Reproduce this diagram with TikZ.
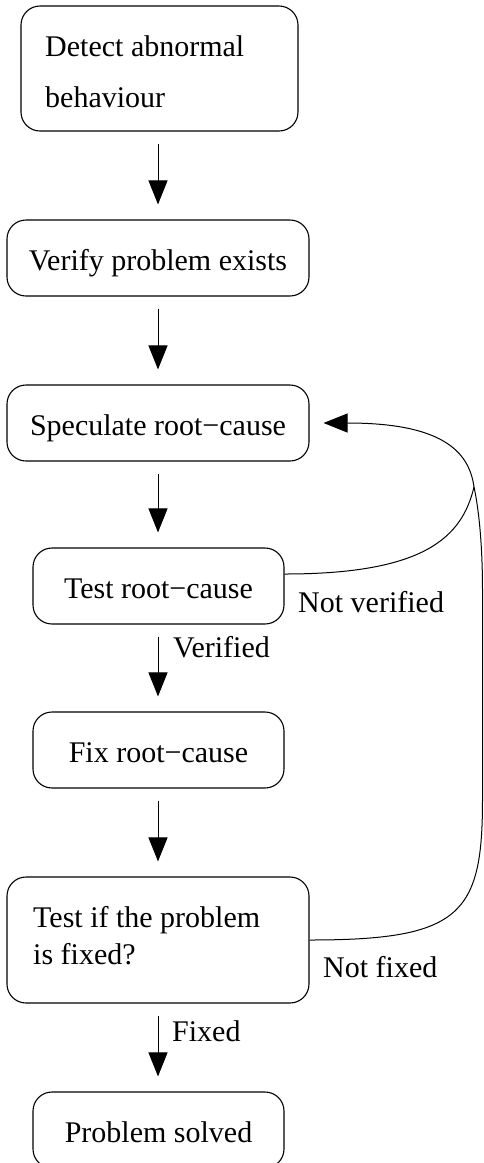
\documentclass[tikz,border=0pt]{standalone}
\usepackage{fontspec}
\setmainfont{Liberation Serif}
\usetikzlibrary{arrows.meta}
\begin{document}
\begin{tikzpicture}[x=1pt,y=-1pt,
  box/.style={draw, line width=1.1pt, rounded corners=19pt, minimum height=76pt, inner sep=0pt,
    font=\fontsize{30}{36}\selectfont, text height=25pt, text depth=0pt},
  wide/.style={box, minimum width=302pt},
  narrow/.style={box, minimum width=251pt},
  txt/.style={font=\fontsize{30}{36}\selectfont, inner sep=0pt},
  flow/.style={-{Triangle[length=24pt,width=19pt]}, line width=1pt, shorten <=12pt, shorten >=15pt},
  loopback/.style={line width=1pt}]
\useasboundingbox (0,0) rectangle (484,1163);
% boxes
\node[box, minimum width=277pt, minimum height=125pt] (b1) at (159.5,68.5) {};
\node[txt, anchor=base west, align=left, font=\fontsize{30}{51}\selectfont] (t1) at (45,107) {Detect abnormal\\behaviour};
\node[wide] (b2) at (158,258) {Verify problem exists};
\node[wide] (b3) at (158,423) {Speculate root−cause};
\node[narrow] (b4) at (158.5,586) {Test root−cause};
\node[narrow] (b5) at (158.5,750) {Fix root−cause};
\node[box, minimum width=302pt, minimum height=126pt] (b6) at (158,940) {};
\node[txt, anchor=base west, align=left, font=\fontsize{30}{37}\selectfont] (t6) at (33,964) {Test if the problem\\is fixed?};
\node[narrow] (b7) at (158.5,1130) {Problem solved};
% straight arrows
\draw[flow] (b2.north |- b1.south) -- (b2.north);
\draw[flow] (b2.south) -- (b3.north);
\draw[flow] (b3.south) -- (b3.south |- b4.north);
\draw[flow] (b3.south |- b4.south) -- (b3.south |- b5.north);
\draw[flow] (b3.south |- b5.south) -- (b6.north);
\draw[flow] (b6.south) -- (b6.south |- b7.north);
% labels
\node[txt, anchor=base west] (lv) at (173,657) {Verified};
\node[txt, anchor=base west] (lf) at (172,1041) {Fixed};
\node[txt, anchor=base west] (lnv) at (298,612) {Not verified};
\node[txt, anchor=base west] (lnf) at (323,977) {Not fixed};
% loop-back curves
\coordinate (a0) at ([yshift=12pt]b4.east);
\coordinate (t3) at ([xshift=14pt]b3.east);
\coordinate (J) at (474,487);
\draw[loopback] (a0) .. controls (425,574) and (462,537) .. (J);
\draw[loopback, -{Triangle[length=24pt,width=19pt]}] (b6.east) .. controls (460,940) and (482.5,915) .. (482.5,800)
  -- (482.5,590) .. controls (482.5,540) and (478,505) .. (J)
  .. controls (469,450) and (440,423) .. (t3);
\end{tikzpicture}
\end{document}
